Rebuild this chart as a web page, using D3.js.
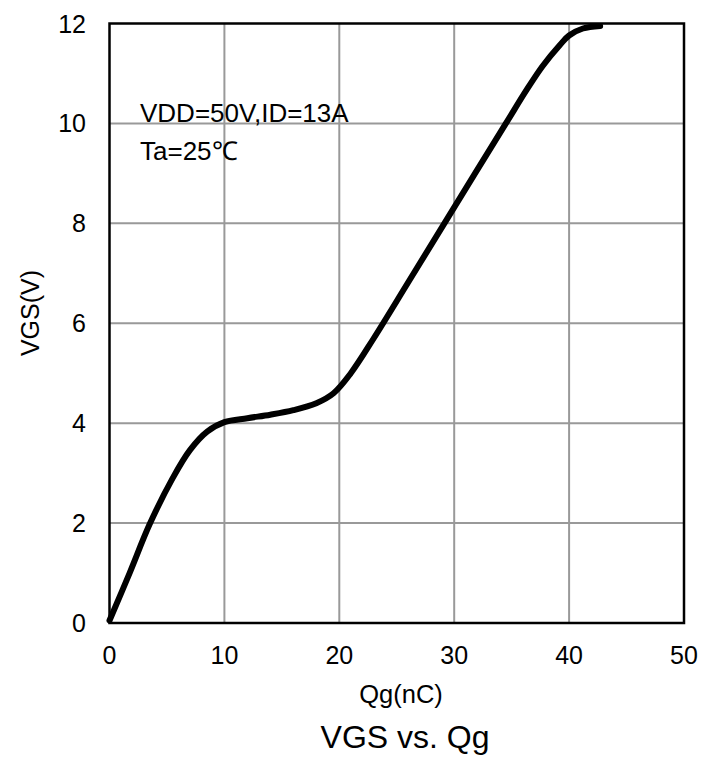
<!DOCTYPE html>
<html>
<head>
<meta charset="utf-8">
<script src="https://cdn.jsdelivr.net/npm/d3@7"></script>
<style>
  body { margin: 0; background: #fff; }
  svg text { font-family: "Liberation Sans", Arial, sans-serif; fill: #000; }
</style>
</head>
<body>
<svg id="chart" width="718" height="757"></svg>
<script>
// DATA
const qg = [0, 1.75, 3.5, 5.5, 7, 8.5, 10, 12, 14, 16, 18, 19.5, 21, 23, 26, 30, 34.5, 36.3, 37.7, 39.2, 40, 41.2, 42.7];
const vgs = [0.05, 1.0, 1.98, 2.9, 3.46, 3.83, 4.02, 4.1, 4.17, 4.26, 4.4, 4.6, 5.0, 5.7, 6.82, 8.32, 10.0, 10.67, 11.15, 11.57, 11.76, 11.9, 11.95];
const xTicks = [0, 10, 20, 30, 40, 50];
const yTicks = [0, 2, 4, 6, 8, 10, 12];
const notes = ["VDD=50V,ID=13A", "Ta=25\u2103"];

// LAYOUT
const pLeft = 109.5, pTop = 23.5, pRight = 684, pBottom = 623;
const svg = d3.select("#chart");

const x = d3.scaleLinear().domain([0, 50]).range([pLeft, pRight]);
const y = d3.scaleLinear().domain([0, 12]).range([pBottom, pTop]);

// grid
svg.append("g")
  .selectAll("line")
  .data(xTicks.slice(1, -1))
  .join("line")
  .attr("x1", d => x(d)).attr("x2", d => x(d))
  .attr("y1", pTop).attr("y2", pBottom)
  .attr("stroke", "#999").attr("stroke-width", 2);

svg.append("g")
  .selectAll("line")
  .data(yTicks.slice(1, -1))
  .join("line")
  .attr("x1", pLeft).attr("x2", pRight)
  .attr("y1", d => y(d)).attr("y2", d => y(d))
  .attr("stroke", "#999").attr("stroke-width", 2);

// frame
svg.append("rect")
  .attr("x", pLeft).attr("y", pTop)
  .attr("width", pRight - pLeft).attr("height", pBottom - pTop)
  .attr("fill", "none").attr("stroke", "#000").attr("stroke-width", 2.5);

// tick labels
svg.append("g")
  .selectAll("text")
  .data(xTicks)
  .join("text")
  .attr("x", d => x(d)).attr("y", 664)
  .attr("text-anchor", "middle")
  .attr("font-size", 25)
  .text(d => d);

svg.append("g")
  .selectAll("text")
  .data(yTicks)
  .join("text")
  .attr("x", 86).attr("y", d => y(d) + 9)
  .attr("text-anchor", "end")
  .attr("font-size", 25)
  .text(d => d);

// curve
const pts = qg.map((q, i) => [q, vgs[i]]);
svg.append("path")
  .datum(pts)
  .attr("d", d3.line().x(d => x(d[0])).y(d => y(d[1])).curve(d3.curveCatmullRom.alpha(0.5)))
  .attr("fill", "none")
  .attr("stroke", "#000")
  .attr("stroke-width", 6)
  .attr("stroke-linecap", "round");

// notes
svg.append("g")
  .selectAll("text")
  .data(notes)
  .join("text")
  .attr("x", 140).attr("y", (d, i) => 121.5 + i * 38.5)
  .attr("font-size", 26)
  .text(d => d);

// axis titles
svg.append("text")
  .attr("x", 401).attr("y", 703)
  .attr("text-anchor", "middle")
  .attr("font-size", 25.5)
  .text("Qg(nC)");

svg.append("text")
  .attr("transform", "translate(39,313) rotate(-90)")
  .attr("text-anchor", "middle")
  .attr("font-size", 25)
  .text("VGS(V)");

svg.append("text")
  .attr("x", 405).attr("y", 748)
  .attr("text-anchor", "middle")
  .attr("font-size", 32)
  .text("VGS vs. Qg");
</script>
</body>
</html>
